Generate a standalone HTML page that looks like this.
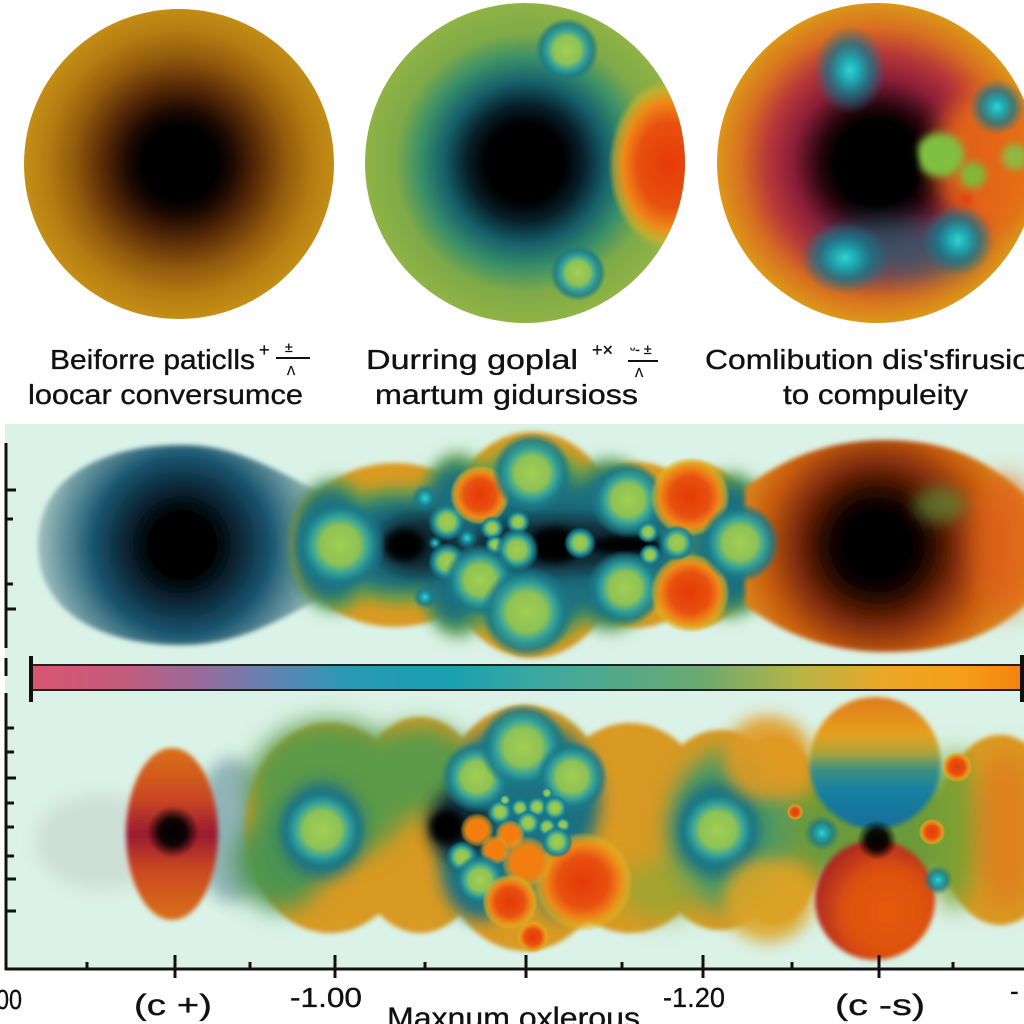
<!DOCTYPE html>
<html><head><meta charset="utf-8"><style>
html,body{margin:0;padding:0;background:#fff;}
svg{display:block;}
text{font-family:"Liberation Sans",sans-serif;fill:#111;stroke:#111;stroke-width:0.35;}
</style></head><body>
<svg width="1024" height="1024" viewBox="0 0 1024 1024" xmlns="http://www.w3.org/2000/svg">
<defs>
<filter id="b2" x="-50%" y="-50%" width="200%" height="200%"><feGaussianBlur stdDeviation="2.5"/></filter>
<filter id="b4" x="-50%" y="-50%" width="200%" height="200%"><feGaussianBlur stdDeviation="4"/></filter>
<filter id="b8" x="-50%" y="-50%" width="200%" height="200%"><feGaussianBlur stdDeviation="8"/></filter>
<filter id="b12" x="-50%" y="-50%" width="200%" height="200%"><feGaussianBlur stdDeviation="12"/></filter>
<filter id="b18" x="-50%" y="-50%" width="200%" height="200%"><feGaussianBlur stdDeviation="18"/></filter>

<radialGradient id="c1" cx="180" cy="163" r="156" gradientUnits="userSpaceOnUse">
<stop offset="0" stop-color="#000"/><stop offset="0.24" stop-color="#000"/>
<stop offset="0.34" stop-color="#1e0a02"/><stop offset="0.5" stop-color="#5a2c06"/>
<stop offset="0.68" stop-color="#925a0c"/><stop offset="0.85" stop-color="#b47c12"/>
<stop offset="1" stop-color="#c48e16"/></radialGradient>

<radialGradient id="c2" cx="525" cy="163" r="162" gradientUnits="userSpaceOnUse">
<stop offset="0" stop-color="#000"/><stop offset="0.24" stop-color="#000"/>
<stop offset="0.36" stop-color="#06202a"/><stop offset="0.5" stop-color="#15606a"/>
<stop offset="0.65" stop-color="#3a9068"/><stop offset="0.8" stop-color="#7eaa48"/>
<stop offset="1" stop-color="#90b446"/></radialGradient>

<radialGradient id="c3" cx="877" cy="163" r="162" gradientUnits="userSpaceOnUse">
<stop offset="0" stop-color="#000"/><stop offset="0.26" stop-color="#000"/>
<stop offset="0.36" stop-color="#2a0610"/><stop offset="0.52" stop-color="#8a1e38"/>
<stop offset="0.68" stop-color="#b83838"/><stop offset="0.84" stop-color="#d87020"/>
<stop offset="1" stop-color="#dc9a18"/></radialGradient>

<radialGradient id="spotG">
<stop offset="0" stop-color="#a2ce52"/><stop offset="0.42" stop-color="#8ec256"/>
<stop offset="0.62" stop-color="#34a29a"/><stop offset="0.82" stop-color="#1a7a88" stop-opacity="0.8"/>
<stop offset="1" stop-color="#1a7a88" stop-opacity="0"/></radialGradient>
<radialGradient id="spotO">
<stop offset="0" stop-color="#e43a06"/><stop offset="0.5" stop-color="#e85010"/>
<stop offset="0.75" stop-color="#ee8a18"/><stop offset="0.9" stop-color="#e0b020" stop-opacity="0.6"/>
<stop offset="1" stop-color="#e0b020" stop-opacity="0"/></radialGradient>
<radialGradient id="spotOr">
<stop offset="0" stop-color="#f67a10"/><stop offset="0.6" stop-color="#f08010"/>
<stop offset="0.85" stop-color="#e8a020" stop-opacity="0.5"/>
<stop offset="1" stop-color="#e8a020" stop-opacity="0"/></radialGradient>
<radialGradient id="spotC">
<stop offset="0" stop-color="#36d0cc"/><stop offset="0.22" stop-color="#1eb0b8"/>
<stop offset="0.6" stop-color="#16788c" stop-opacity="0.75"/>
<stop offset="1" stop-color="#16788c" stop-opacity="0"/></radialGradient>
<radialGradient id="dark">
<stop offset="0" stop-color="#000"/><stop offset="0.5" stop-color="#000" stop-opacity="0.9"/>
<stop offset="1" stop-color="#000" stop-opacity="0"/></radialGradient>

<radialGradient id="ulb" cx="182" cy="545" r="155" gradientUnits="userSpaceOnUse">
<stop offset="0" stop-color="#000"/><stop offset="0.2" stop-color="#000"/>
<stop offset="0.38" stop-color="#0a2838"/><stop offset="0.58" stop-color="#1a5670"/>
<stop offset="0.8" stop-color="#3e7484" stop-opacity="0.7"/>
<stop offset="1" stop-color="#6a8a90" stop-opacity="0.3"/></radialGradient>

<radialGradient id="urb" cx="877" cy="545" r="160" gradientUnits="userSpaceOnUse">
<stop offset="0" stop-color="#000"/><stop offset="0.2" stop-color="#000"/>
<stop offset="0.32" stop-color="#220800"/><stop offset="0.5" stop-color="#7a2a08"/>
<stop offset="0.7" stop-color="#c45a10"/><stop offset="0.85" stop-color="#d87c14"/>
<stop offset="1" stop-color="#e08e18"/></radialGradient>

<linearGradient id="redb" x1="0" y1="0" x2="0" y2="1">
<stop offset="0" stop-color="#d87018"/><stop offset="0.28" stop-color="#cc4a22"/>
<stop offset="0.5" stop-color="#9a1a30"/><stop offset="0.72" stop-color="#cc4a22"/>
<stop offset="1" stop-color="#d87018"/></linearGradient>

<linearGradient id="sph1" x1="0" y1="0" x2="0" y2="1">
<stop offset="0" stop-color="#de7a18"/><stop offset="0.28" stop-color="#e6a020"/>
<stop offset="0.42" stop-color="#b0a438"/><stop offset="0.55" stop-color="#3a9080"/>
<stop offset="0.7" stop-color="#1a80a0"/><stop offset="1" stop-color="#106e9a"/></linearGradient>
<radialGradient id="sph2" cx="0.6" cy="0.6" r="0.6">
<stop offset="0" stop-color="#e85a10"/><stop offset="0.6" stop-color="#dc5010"/>
<stop offset="1" stop-color="#b02a20"/></radialGradient>

<linearGradient id="cbar" x1="31" y1="0" x2="1024" y2="0" gradientUnits="userSpaceOnUse">
<stop offset="0" stop-color="#d9566e"/><stop offset="0.09" stop-color="#c45c7e"/>
<stop offset="0.17" stop-color="#9a6a9c"/><stop offset="0.23" stop-color="#6a80b0"/>
<stop offset="0.32" stop-color="#2a98b8"/><stop offset="0.42" stop-color="#1aa0b0"/>
<stop offset="0.52" stop-color="#40a8a0"/><stop offset="0.674" stop-color="#6aaa70"/>
<stop offset="0.775" stop-color="#b8b448"/><stop offset="0.855" stop-color="#e8a828"/>
<stop offset="0.935" stop-color="#f5a018"/><stop offset="1" stop-color="#f58010"/></linearGradient>

<clipPath id="cl2"><circle cx="525" cy="163" r="160"/></clipPath>
<clipPath id="cl3"><circle cx="877" cy="163" r="160"/></clipPath>
</defs>

<rect width="1024" height="1024" fill="#fff"/>

<!-- Top circle 1 -->
<circle cx="179" cy="164" r="155" fill="url(#c1)"/>

<!-- Top circle 2 -->
<circle cx="525" cy="163" r="160" fill="url(#c2)"/>
<g clip-path="url(#cl2)">
<ellipse cx="668" cy="165" rx="60" ry="85" fill="url(#spotO)"/>
<circle cx="567" cy="50" r="32" fill="url(#spotG)"/>
<circle cx="578" cy="273" r="28" fill="url(#spotG)"/>
</g>

<!-- Top circle 3 -->
<circle cx="877" cy="163" r="160" fill="url(#c3)"/>
<g clip-path="url(#cl3)">
<ellipse cx="990" cy="160" rx="55" ry="70" fill="#e86a12" filter="url(#b12)" opacity="0.9"/>
<ellipse cx="895" cy="250" rx="80" ry="30" fill="#17667a" filter="url(#b12)" opacity="0.65"/>
<ellipse cx="850" cy="70" rx="36" ry="44" fill="url(#spotC)"/>
<circle cx="997" cy="107" r="28" fill="url(#spotC)"/>
<ellipse cx="845" cy="258" rx="44" ry="36" fill="url(#spotC)"/>
<circle cx="958" cy="240" r="36" fill="url(#spotC)"/>
<ellipse cx="940" cy="155" rx="24" ry="22" fill="#80c040" filter="url(#b4)"/>
<circle cx="973" cy="175" r="13" fill="#80b838" filter="url(#b4)"/>
<circle cx="1015" cy="157" r="13" fill="#90b840" filter="url(#b4)"/>
<circle cx="966" cy="200" r="7" fill="#e04010" filter="url(#b4)"/>
<circle cx="877" cy="163" r="40" fill="#000" filter="url(#b4)"/>
</g>

<!-- Top labels -->
<text x="50" y="369" font-size="28" textLength="205" lengthAdjust="spacingAndGlyphs">Beiforre paticlls</text>
<text x="259" y="356" font-size="18">+</text>
<line x1="276" y1="358" x2="310" y2="358" stroke="#111" stroke-width="2"/>
<text x="285" y="352" font-size="14">±</text>
<text x="287" y="375" font-size="12">ᐱ</text>
<text x="28" y="404" font-size="28" textLength="275" lengthAdjust="spacingAndGlyphs">loocar conversumce</text>

<text x="366" y="369" font-size="28" textLength="212" lengthAdjust="spacingAndGlyphs">Durring goplal</text>
<text x="592" y="356" font-size="18">+×</text>
<text x="630" y="354" font-size="14">ᵕ- ±</text>
<line x1="628" y1="361" x2="658" y2="361" stroke="#111" stroke-width="2"/>
<text x="635" y="377" font-size="12">ᐱ</text>
<text x="375" y="404" font-size="28" textLength="263" lengthAdjust="spacingAndGlyphs">martum gidursioss</text>

<text x="705" y="369" font-size="28" textLength="325" lengthAdjust="spacingAndGlyphs">Comlibution dis'sfirusio</text>
<text x="783" y="404" font-size="28" textLength="185" lengthAdjust="spacingAndGlyphs">to compuleity</text>

<!-- Lower panel background -->
<rect x="5" y="424" width="1019" height="545" fill="#daf2e7"/>

<!-- ===== Upper strip ===== -->
<path d="M38,545 C38,472 110,445 182,445 C245,445 285,478 338,500 L338,590 C285,615 245,645 182,645 C105,645 38,615 38,545 Z" fill="url(#ulb)" filter="url(#b2)"/>

<!-- middle cluster -->
<g fill="#dc9a22" filter="url(#b2)">
<ellipse cx="395" cy="545" rx="100" ry="82"/>
<ellipse cx="532" cy="545" rx="90" ry="113"/>
<ellipse cx="635" cy="545" rx="80" ry="83"/>
<ellipse cx="695" cy="545" rx="62" ry="83"/>
<ellipse cx="322" cy="545" rx="32" ry="55"/>
</g>
<g fill="#62a04a" filter="url(#b8)">
<ellipse cx="335" cy="545" rx="42" ry="66"/>
<ellipse cx="400" cy="545" rx="78" ry="58"/>
<ellipse cx="458" cy="545" rx="44" ry="92"/>
<ellipse cx="532" cy="545" rx="78" ry="100"/>
<ellipse cx="610" cy="545" rx="52" ry="86"/>
<ellipse cx="730" cy="545" rx="46" ry="72"/>
</g>
<g fill="#1c6e7e" filter="url(#b8)">
<ellipse cx="330" cy="545" rx="38" ry="56"/>
<ellipse cx="400" cy="545" rx="68" ry="46"/>
<ellipse cx="455" cy="545" rx="36" ry="80"/>
<ellipse cx="532" cy="550" rx="66" ry="88"/>
<ellipse cx="608" cy="545" rx="42" ry="76"/>
<ellipse cx="650" cy="545" rx="36" ry="42"/>
<ellipse cx="730" cy="545" rx="38" ry="62"/>
</g>
<g fill="#0a2a36" filter="url(#b8)">
<ellipse cx="420" cy="545" rx="45" ry="30"/>
<ellipse cx="560" cy="545" rx="92" ry="28"/>
</g>
<g fill="#000" filter="url(#b4)">
<ellipse cx="405" cy="545" rx="20" ry="16"/>
<ellipse cx="555" cy="545" rx="26" ry="18"/>
<ellipse cx="625" cy="545" rx="36" ry="9"/>
</g>

<!-- right blob upper -->
<path d="M745,488 C790,452 840,440 885,440 C960,440 1000,470 1030,500 L1030,600 C1000,630 960,652 885,652 C840,652 790,640 745,605 Z" fill="url(#urb)" filter="url(#b2)"/>
<ellipse cx="1005" cy="545" rx="35" ry="70" fill="#e0601a" filter="url(#b12)" opacity="0.7"/>
<ellipse cx="940" cy="505" rx="26" ry="18" fill="#5e8a38" filter="url(#b8)" opacity="0.7"/>

<!-- upper spots -->
<circle cx="340" cy="545" r="46" fill="url(#spotG)"/>
<circle cx="425" cy="498" r="14" fill="url(#spotC)"/>
<circle cx="447" cy="522" r="19" fill="url(#spotG)"/>
<circle cx="467" cy="538" r="11" fill="url(#spotC)"/>
<circle cx="435" cy="543" r="7" fill="url(#spotC)"/>
<circle cx="447" cy="562" r="19" fill="url(#spotG)"/>
<circle cx="425" cy="597" r="12" fill="url(#spotC)"/>
<circle cx="480" cy="495" r="30" fill="url(#spotO)"/>
<circle cx="532" cy="473" r="40" fill="url(#spotG)"/>
<circle cx="492" cy="528" r="12" fill="url(#spotG)"/>
<circle cx="495" cy="545" r="10" fill="url(#spotG)"/>
<circle cx="518" cy="522" r="12" fill="url(#spotG)"/>
<circle cx="517" cy="550" r="22" fill="url(#spotG)"/>
<circle cx="480" cy="580" r="36" fill="url(#spotG)"/>
<circle cx="527" cy="612" r="46" fill="url(#spotG)"/>
<circle cx="580" cy="543" r="16" fill="url(#spotG)"/>
<circle cx="628" cy="500" r="38" fill="url(#spotG)"/>
<circle cx="625" cy="588" r="38" fill="url(#spotG)"/>
<circle cx="690" cy="497" r="40" fill="url(#spotO)"/>
<circle cx="690" cy="593" r="40" fill="url(#spotO)"/>
<circle cx="648" cy="532" r="11" fill="url(#spotG)"/>
<circle cx="650" cy="555" r="11" fill="url(#spotG)"/>
<circle cx="677" cy="543" r="18" fill="url(#spotG)"/>
<circle cx="740" cy="543" r="40" fill="url(#spotG)"/>

<!-- ===== Colorbar ===== -->
<rect x="31" y="665" width="993" height="25" fill="url(#cbar)" stroke="#222" stroke-width="2"/>
<line x1="31" y1="656" x2="31" y2="702" stroke="#111" stroke-width="4"/>
<line x1="1022" y1="655" x2="1022" y2="702" stroke="#111" stroke-width="4"/>

<!-- ===== Lower strip ===== -->
<ellipse cx="100" cy="842" rx="65" ry="48" fill="#8a7078" opacity="0.14" filter="url(#b8)"/>
<ellipse cx="232" cy="830" rx="38" ry="72" fill="#3a6a80" opacity="0.45" filter="url(#b8)"/>

<g fill="#d89a22" filter="url(#b2)">
<ellipse cx="330" cy="828" rx="85" ry="105"/>
<ellipse cx="420" cy="825" rx="72" ry="108"/>
<ellipse cx="525" cy="828" rx="92" ry="123"/>
<ellipse cx="630" cy="828" rx="85" ry="105"/>
<ellipse cx="720" cy="830" rx="72" ry="100"/>
<ellipse cx="775" cy="830" rx="50" ry="95"/>
<ellipse cx="1000" cy="830" rx="62" ry="95"/>
</g>
<g filter="url(#b12)">
<ellipse cx="330" cy="790" rx="82" ry="70" fill="#5c9a46"/>
<ellipse cx="420" cy="770" rx="55" ry="45" fill="#5c9a46"/>
<ellipse cx="280" cy="860" rx="45" ry="50" fill="#4e9450"/>
<ellipse cx="730" cy="830" rx="62" ry="80" fill="#4e9a62"/>
<ellipse cx="660" cy="890" rx="40" ry="30" fill="#8aa838" opacity="0.7"/>
<ellipse cx="880" cy="830" rx="95" ry="62" fill="#6a9a3a"/>
<ellipse cx="955" cy="830" rx="22" ry="80" fill="#7aa032"/>
<ellipse cx="1005" cy="830" rx="30" ry="80" fill="#e0761a" opacity="0.7"/>
</g>
<g fill="#1c7080" filter="url(#b8)">
<ellipse cx="322" cy="830" rx="42" ry="48"/>
<ellipse cx="525" cy="800" rx="75" ry="80"/>
<ellipse cx="480" cy="862" rx="40" ry="58"/>
<ellipse cx="718" cy="830" rx="42" ry="48"/>
<ellipse cx="560" cy="875" rx="25" ry="42"/>
</g>
<ellipse cx="460" cy="825" rx="32" ry="36" fill="#0a2a36" filter="url(#b8)"/>
<circle cx="447" cy="827" r="17" fill="#000" filter="url(#b4)"/>

<!-- red left blob -->
<ellipse cx="172" cy="834" rx="46" ry="86" fill="url(#redb)" filter="url(#b2)"/>
<circle cx="173" cy="832" r="26" fill="url(#dark)"/>

<!-- lower spots -->
<circle cx="322" cy="830" r="44" fill="url(#spotG)"/>
<circle cx="477" cy="777" r="36" fill="url(#spotG)"/>
<circle cx="523" cy="747" r="44" fill="url(#spotG)"/>
<circle cx="572" cy="777" r="36" fill="url(#spotG)"/>
<circle cx="500" cy="812" r="13" fill="url(#spotG)"/>
<circle cx="520" cy="808" r="10" fill="url(#spotG)"/>
<circle cx="537" cy="807" r="11" fill="url(#spotG)"/>
<circle cx="555" cy="808" r="13" fill="url(#spotG)"/>
<circle cx="528" cy="823" r="13" fill="url(#spotG)"/>
<circle cx="547" cy="827" r="10" fill="url(#spotG)"/>
<circle cx="563" cy="825" r="8" fill="url(#spotG)"/>
<circle cx="505" cy="800" r="6" fill="url(#spotG)"/>
<circle cx="547" cy="793" r="6" fill="url(#spotG)"/>
<circle cx="583" cy="882" r="50" fill="url(#spotO)"/>
<circle cx="477" cy="830" r="17" fill="url(#spotOr)"/>
<circle cx="510" cy="835" r="15" fill="url(#spotOr)"/>
<circle cx="495" cy="850" r="15" fill="url(#spotOr)"/>
<circle cx="527" cy="862" r="26" fill="url(#spotOr)"/>
<circle cx="462" cy="857" r="16" fill="url(#spotG)"/>
<circle cx="480" cy="880" r="26" fill="url(#spotG)"/>
<circle cx="557" cy="842" r="16" fill="url(#spotG)"/>
<circle cx="510" cy="902" r="28" fill="url(#spotO)"/>
<circle cx="533" cy="937" r="16" fill="url(#spotO)"/>
<circle cx="718" cy="830" r="42" fill="url(#spotG)"/>

<!-- right spheres -->
<ellipse cx="768" cy="758" rx="45" ry="42" fill="#e09a22" filter="url(#b8)" opacity="0.9"/>
<ellipse cx="768" cy="900" rx="45" ry="42" fill="#dca426" filter="url(#b8)" opacity="0.9"/>
<circle cx="875" cy="763" r="66" fill="url(#sph1)" filter="url(#b2)"/>
<circle cx="875" cy="900" r="60" fill="url(#sph2)" filter="url(#b2)"/>
<circle cx="877" cy="840" r="20" fill="url(#dark)"/>
<circle cx="822" cy="833" r="18" fill="url(#spotC)"/>
<circle cx="938" cy="880" r="15" fill="url(#spotC)"/>
<circle cx="795" cy="812" r="8" fill="url(#spotO)"/>
<circle cx="932" cy="832" r="13" fill="url(#spotO)"/>
<circle cx="957" cy="767" r="15" fill="url(#spotO)"/>

<!-- Left axis -->
<g stroke="#111" stroke-width="3">
<line x1="6" y1="443" x2="6" y2="648"/>
<line x1="6" y1="658" x2="6" y2="676"/>
<line x1="6" y1="693" x2="6" y2="970"/>
<line x1="6" y1="490" x2="16" y2="490"/>
<line x1="6" y1="519" x2="13" y2="519"/>
<line x1="6" y1="584" x2="13" y2="584"/>
<line x1="6" y1="609" x2="16" y2="609"/>
<line x1="6" y1="728" x2="14" y2="728"/>
<line x1="6" y1="752" x2="14" y2="752"/>
<line x1="6" y1="778" x2="16" y2="778"/>
<line x1="6" y1="803" x2="14" y2="803"/>
<line x1="6" y1="827" x2="14" y2="827"/>
<line x1="6" y1="856" x2="14" y2="856"/>
<line x1="6" y1="879" x2="16" y2="879"/>
<line x1="6" y1="911" x2="16" y2="911"/>
</g>

<!-- Bottom axis -->
<rect x="0" y="970" width="1024" height="54" fill="#fff"/>
<g stroke="#111" stroke-width="3">
<line x1="5" y1="969" x2="1024" y2="969"/>
<line x1="175" y1="955" x2="175" y2="978"/>
<line x1="335" y1="955" x2="335" y2="978"/>
<line x1="526" y1="955" x2="526" y2="978"/>
<line x1="703" y1="955" x2="703" y2="978"/>
<line x1="879" y1="955" x2="879" y2="978"/>
<line x1="87" y1="962" x2="87" y2="969"/>
<line x1="250" y1="962" x2="250" y2="969"/>
<line x1="425" y1="962" x2="425" y2="969"/>
<line x1="622" y1="962" x2="622" y2="969"/>
<line x1="792" y1="962" x2="792" y2="969"/>
<line x1="953" y1="962" x2="953" y2="969"/>
</g>
<text x="-4" y="1009" font-size="28" textLength="26" lengthAdjust="spacingAndGlyphs">00</text>
<text x="134" y="1015" font-size="30" textLength="78" lengthAdjust="spacingAndGlyphs">(c +)</text>
<text x="290" y="1007" font-size="28" textLength="72" lengthAdjust="spacingAndGlyphs">-1.00</text>
<text x="387" y="1028" font-size="30" textLength="253" lengthAdjust="spacingAndGlyphs">Maxnum oxlerous</text>
<text x="663" y="1007" font-size="28" textLength="62" lengthAdjust="spacingAndGlyphs">-1.20</text>
<text x="835" y="1015" font-size="30" textLength="90" lengthAdjust="spacingAndGlyphs">(c -s)</text>
<text x="1010" y="1000" font-size="26">-</text>
</svg>
</body></html>
